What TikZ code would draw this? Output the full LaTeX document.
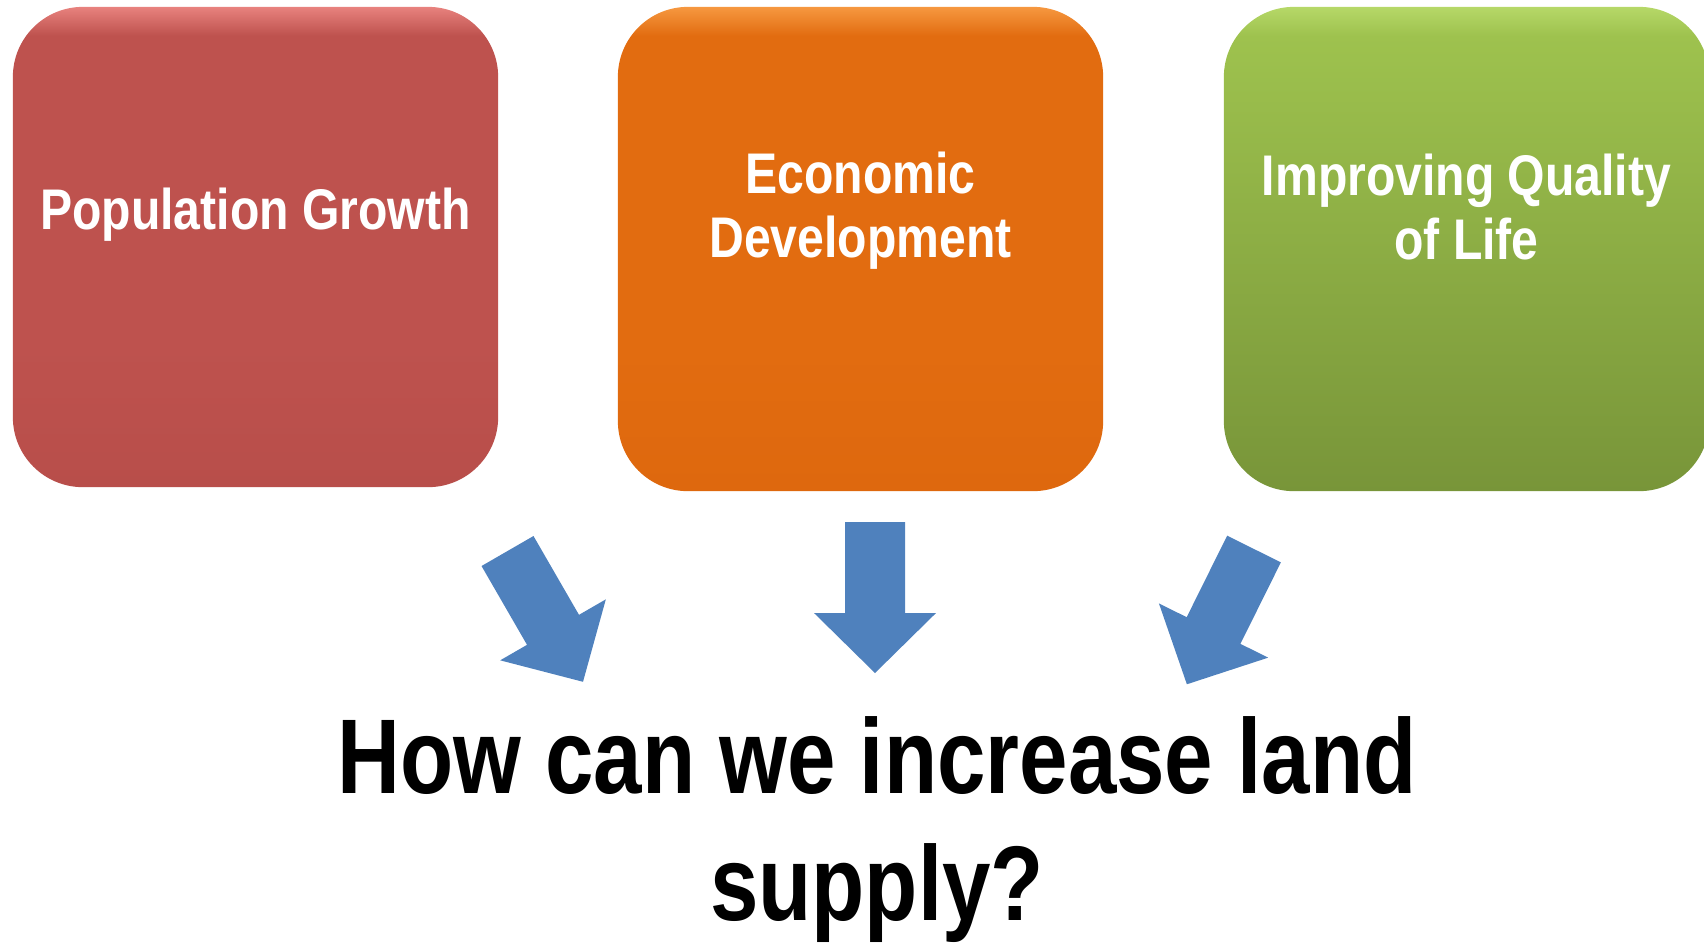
\documentclass[tikz,border=0pt]{standalone}
\usepackage{fontspec}
\setmainfont{Liberation Sans}[FakeStretch=0.82]
\newfontfamily\boxfont{Liberation Sans}[FakeStretch=0.84]
\usetikzlibrary{positioning}

\definecolor{popred}{RGB}{190,82,78}
\definecolor{popredtop}{RGB}{232,130,126}
\definecolor{popreddark}{RGB}{184,78,74}
\definecolor{ecoorange}{RGB}{226,108,16}
\definecolor{ecoorangetop}{RGB}{246,152,64}
\definecolor{ecoorangedark}{RGB}{222,104,14}
\definecolor{lifegreen}{RGB}{158,194,78}
\definecolor{lifegreentop}{RGB}{182,216,104}
\definecolor{lifegreendark}{RGB}{120,149,57}
\definecolor{arrowblue}{RGB}{79,129,189}

% faces of the three boxes, light rim on top
\pgfdeclareverticalshading{popface}{100bp}{color(0bp)=(popreddark); color(25bp)=(popreddark);
  color(40bp)=(popred); color(72bp)=(popred); color(75bp)=(popredtop); color(100bp)=(popredtop)}
\pgfdeclareverticalshading{ecoface}{100bp}{color(0bp)=(ecoorangedark); color(25bp)=(ecoorangedark);
  color(40bp)=(ecoorange); color(72bp)=(ecoorange); color(75bp)=(ecoorangetop); color(100bp)=(ecoorangetop)}
\pgfdeclareverticalshading{lifeface}{100bp}{color(0bp)=(lifegreendark); color(25bp)=(lifegreendark);
  color(72bp)=(lifegreen); color(75bp)=(lifegreentop); color(100bp)=(lifegreentop)}

\tikzset{
  factorbox/.style={rounded corners=0.7cm, minimum width=4.85cm, inner sep=0pt, draw=none},
  boxlabel/.style={inner sep=0pt, align=center, text=white,
    font=\boxfont\fontsize{16.3}{18.2}\selectfont\bfseries},
  question/.style={anchor=north, inner sep=0pt, align=center,
    font=\fontsize{30.2}{36.1}\selectfont\bfseries},
  landarrow/.pic={
    \fill[arrowblue] (-30,0) -- (30,0) -- (30,91) -- (61,91) -- (0,151)
      -- (-61,91) -- (-30,91) -- cycle;
  }
}

\begin{document}
\begin{tikzpicture}[x=0.01cm,y=-0.01cm]
    \useasboundingbox (0,0) rectangle (1704,944);

    % Boxes:
    \node[factorbox, minimum height=4.80cm, shading=popface] (popbox) at (255.5,247) {};
    \node[factorbox, minimum height=4.84cm, shading=ecoface] (ecobox) at (860.5,249) {};
    \node[factorbox, minimum height=4.84cm, shading=lifeface] (lifebox) at (1466.5,249) {};

    \node[boxlabel, below=1.81cm of popbox.north] (poplabel) {Population Growth};
    \node[boxlabel, below=1.45cm of ecobox.north] (ecolabel) {Economic\\Development};
    \node[boxlabel, below=1.47cm of lifebox.north] (lifelabel) {Improving Quality\\of Life};

    % Block arrows:
    \pic[rotate=30] at (507.5,551) {landarrow};
    \pic at (875,522) {landarrow};
    \pic[rotate=-26.4] at (1254,549) {landarrow};

    \node[question] (landq) at (877,716) {How can we increase land\\supply?};
\end{tikzpicture}
\end{document}
